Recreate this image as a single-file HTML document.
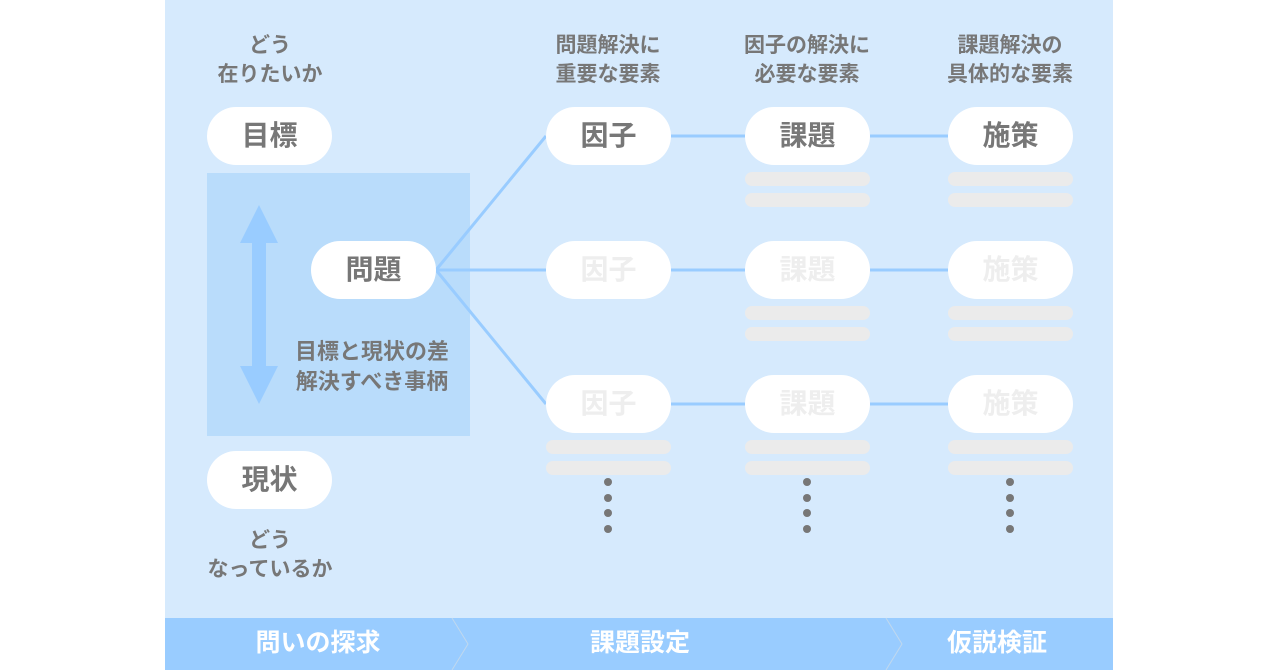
<!DOCTYPE html>
<html><head><meta charset="utf-8"><style>
body{margin:0;width:1280px;height:670px;background:#fff;position:relative;overflow:hidden;font-family:"Liberation Sans","Noto Sans CJK JP",sans-serif;font-weight:bold}
.p{position:absolute;background:#d6eafd;left:165px;top:0;width:948px;height:670px}
.box{position:absolute;left:207px;top:173px;width:263px;height:263px;background:#b9dcfb}
.pill{position:absolute;width:125px;height:58px;border-radius:29px;background:#fff;color:#777;font-size:28px;line-height:58px;text-align:center}
.f{color:#eee}
.bar{position:absolute;width:125px;height:14px;border-radius:7px;background:#ebebeb}
.t{position:absolute;color:#777;font-size:21px;line-height:29px;text-align:center;width:240px}
.dot{position:absolute;width:8px;height:8px;border-radius:4px;background:#777}
.bot{position:absolute;left:165px;top:618px;width:948px;height:52px;background:#99ccff}
.bt{position:absolute;top:618px;line-height:50px;color:#fff;font-size:25px;text-align:center;width:200px}
</style></head><body>
<div class="p"></div>
<div class="box"></div>
<svg style="position:absolute;left:0;top:0" width="1280" height="670">
<g stroke="#99ccff" stroke-width="3" fill="none">
<line x1="436" y1="270" x2="546" y2="136"/><line x1="436" y1="270" x2="546" y2="270"/><line x1="436" y1="270" x2="546" y2="404"/>
<line x1="671" y1="136" x2="745" y2="136"/><line x1="870" y1="136" x2="948" y2="136"/>
<line x1="671" y1="270" x2="745" y2="270"/><line x1="870" y1="270" x2="948" y2="270"/>
<line x1="671" y1="404" x2="745" y2="404"/><line x1="870" y1="404" x2="948" y2="404"/>
</g>
<polygon fill="#99ccff" points="259,205 278,243 266,243 266,366 278,366 259,404 240,366 252,366 252,243 240,243"/>
</svg>
<div class="t" style="left:150px;top:31px">どう<br>在りたいか</div>
<div class="t" style="left:488px;top:31px">問題解決に<br>重要な要素</div>
<div class="t" style="left:687px;top:31px">因子の解決に<br>必要な要素</div>
<div class="t" style="left:890px;top:31px">課題解決の<br>具体的な要素</div>
<div class="t" style="left:150px;top:526px">どう<br>なっているか</div>
<div class="t" style="left:252px;top:337px;font-size:22px;line-height:30px">目標と現状の差<br>解決すべき事柄</div>
<div class="pill" style="left:207px;top:107px">目標</div>
<div class="pill" style="left:311px;top:241px">問題</div>
<div class="pill" style="left:207px;top:451px">現状</div>
<div class="pill" style="left:546px;top:107px">因子</div>
<div class="pill" style="left:745px;top:107px">課題</div>
<div class="pill" style="left:948px;top:107px">施策</div>
<div class="pill f" style="left:546px;top:241px">因子</div>
<div class="pill f" style="left:745px;top:241px">課題</div>
<div class="pill f" style="left:948px;top:241px">施策</div>
<div class="pill f" style="left:546px;top:375px">因子</div>
<div class="pill f" style="left:745px;top:375px">課題</div>
<div class="pill f" style="left:948px;top:375px">施策</div>
<div class="bar" style="left:745px;top:172px"></div><div class="bar" style="left:745px;top:193px"></div>
<div class="bar" style="left:948px;top:172px"></div><div class="bar" style="left:948px;top:193px"></div>
<div class="bar" style="left:745px;top:306px"></div><div class="bar" style="left:745px;top:327px"></div>
<div class="bar" style="left:948px;top:306px"></div><div class="bar" style="left:948px;top:327px"></div>
<div class="bar" style="left:546px;top:440px"></div><div class="bar" style="left:546px;top:461px"></div>
<div class="bar" style="left:745px;top:440px"></div><div class="bar" style="left:745px;top:461px"></div>
<div class="bar" style="left:948px;top:440px"></div><div class="bar" style="left:948px;top:461px"></div>
<div class="dot" style="left:604px;top:478px"></div><div class="dot" style="left:604px;top:494px"></div><div class="dot" style="left:604px;top:509px"></div><div class="dot" style="left:604px;top:525px"></div>
<div class="dot" style="left:803px;top:478px"></div><div class="dot" style="left:803px;top:494px"></div><div class="dot" style="left:803px;top:509px"></div><div class="dot" style="left:803px;top:525px"></div>
<div class="dot" style="left:1006px;top:478px"></div><div class="dot" style="left:1006px;top:494px"></div><div class="dot" style="left:1006px;top:509px"></div><div class="dot" style="left:1006px;top:525px"></div>
<div class="bot"></div>
<svg style="position:absolute;left:0;top:0" width="1280" height="670"><g stroke="#c0d8ee" stroke-width="1" fill="none"><polyline points="452,618 468,644 452,670"/><polyline points="886,618 902,644 886,670"/></g></svg>
<div class="bt" style="left:218px">問いの探求</div>
<div class="bt" style="left:540px">課題設定</div>
<div class="bt" style="left:897px">仮説検証</div>
</body></html>
